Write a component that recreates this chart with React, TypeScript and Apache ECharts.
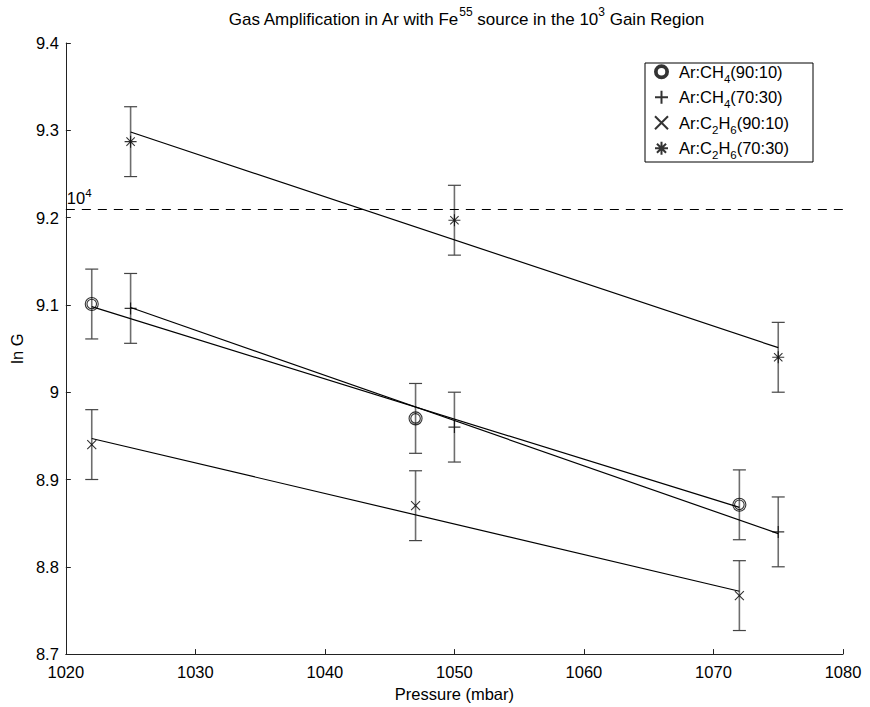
import React, { useEffect, useRef } from "react";
import * as echarts from "echarts";

// ---- data ----
const pressure9010 = [1022, 1047, 1072];
const pressure7030 = [1025, 1050, 1075];
const lnG_CH4_9010 = [9.101, 8.970, 8.871];
const lnG_CH4_7030 = [9.096, 8.960, 8.840];
const lnG_C2H6_9010 = [8.940, 8.870, 8.767];
const lnG_C2H6_7030 = [9.287, 9.197, 9.040];
const errCH4_9010 = [0.04, 0.04, 0.04];
const errCH4_7030 = [0.04, 0.04, 0.04];
const errC2H6_9010 = [0.04, 0.04, 0.04];
const errC2H6_7030 = [0.04, 0.04, 0.04];
// linear fit end points
const fitX9010 = [1022, 1072];
const fitX7030 = [1025, 1075];
const fitCH4_9010 = [9.098, 8.868];
const fitCH4_7030 = [9.097, 8.838];
const fitC2H6_9010 = [8.947, 8.772];
const fitC2H6_7030 = [9.298, 9.051];
const refLevel = 9.21; // ln(10^4)
const xTicks = [1020, 1030, 1040, 1050, 1060, 1070, 1080];
const yTicks = [8.7, 8.8, 8.9, 9.0, 9.1, 9.2, 9.3, 9.4];

const seriesNames = ["Ar:CH4(90:10)", "Ar:CH4(70:30)", "Ar:C2H6(90:10)", "Ar:C2H6(70:30)"];
const legendRich: Record<string, string> = {
  "Ar:CH4(90:10)": "Ar:CH{sub|4}(90:10)",
  "Ar:CH4(70:30)": "Ar:CH{sub|4}(70:30)",
  "Ar:C2H6(90:10)": "Ar:C{sub|2}H{sub|6}(90:10)",
  "Ar:C2H6(70:30)": "Ar:C{sub|2}H{sub|6}(70:30)",
};

const FONT = "'Liberation Sans', Arial, sans-serif";
const FS = 16.5;
const FS_SMALL = 11.5;

const symCircle =
  "path://M0,6A6,6 0 1,0 12,6A6,6 0 1,0 0,6ZM1.6,6A4.4,4.4 0 1,0 10.4,6A4.4,4.4 0 1,0 1.6,6Z";
const symPlus = "path://M5,0L5,10M0,5L10,5";
const symX = "path://M0,0L10,10M10,0L0,10";
const symStar = "path://M5,0L5,10M0,5L10,5M1.5,1.5L8.5,8.5M8.5,1.5L1.5,8.5";

function zip(xs: number[], ys: number[]) {
  return xs.map((x, i) => [x, ys[i]]);
}

function errData(xs: number[], ys: number[], es: number[]) {
  return xs.map((x, i) => [x, ys[i] - es[i], ys[i] + es[i]]);
}

function errorSeries(data: number[][]) {
  return {
    type: "custom",
    silent: true,
    z: 1,
    renderItem: (_params: any, api: any) => {
      const x = api.value(0);
      const lo = api.coord([x, api.value(1)]);
      const hi = api.coord([x, api.value(2)]);
      const hw = 6.5;
      return {
        type: "group",
        children: [
          { type: "line", shape: { x1: lo[0], y1: lo[1], x2: hi[0], y2: hi[1] }, style: { stroke: "#6e6e6e", lineWidth: 1.6 } },
          { type: "line", shape: { x1: lo[0] - hw, y1: lo[1], x2: lo[0] + hw, y2: lo[1] }, style: { stroke: "#444", lineWidth: 1.2 } },
          { type: "line", shape: { x1: hi[0] - hw, y1: hi[1], x2: hi[0] + hw, y2: hi[1] }, style: { stroke: "#444", lineWidth: 1.2 } },
        ],
      };
    },
    data,
  };
}

function markerSeries(name: string, data: number[][], symbol: string, size: number) {
  return {
    name,
    type: "scatter",
    symbol,
    symbolSize: size,
    z: 5,
    itemStyle: { color: "rgba(0,0,0,0)", borderColor: "#000", borderWidth: 1.1 },
    data,
  };
}

function fitSeries(data: number[][]) {
  return {
    type: "line",
    symbol: "none",
    z: 3,
    lineStyle: { color: "#000", width: 1.2 },
    data,
  };
}

export default function App() {
  const ref = useRef<HTMLDivElement>(null);
  useEffect(() => {
    if (!ref.current) return;
    const chart = echarts.init(ref.current, undefined, { renderer: "svg" });
    const option: any = {
      animation: false,
      backgroundColor: "#fff",
      textStyle: { fontFamily: FONT },
      title: {
        text: "Gas Amplification in Ar with Fe{sup|55} source in the 10{sup|3} Gain Region",
        left: 461,
        top: 1,
        textAlign: "center",
        textStyle: {
          fontFamily: FONT,
          fontSize: 17,
          fontWeight: "normal",
          color: "#000",
          lineHeight: 26,
          rich: {
            sup: { fontSize: 12, verticalAlign: "top", lineHeight: 26, fontFamily: FONT, color: "#000" },
          },
        },
      },
      graphic: [
        {
          type: "rect",
          z: 50,
          shape: { x: 645, y: 63, width: 168, height: 99 },
          style: { fill: "#fff", stroke: "#000", lineWidth: 1 },
        },
      ],
      grid: { left: 63, right: 27, top: 43, bottom: 48, containLabel: false },
      legend: {
        data: seriesNames,
        orient: "vertical",
        left: 654,
        top: 59,
        z: 60,
        padding: 0,
        itemGap: 0,
        itemWidth: 13,
        itemHeight: 13,
        formatter: (n: string) => legendRich[n],
        textStyle: {
          fontFamily: FONT,
          fontSize: FS,
          color: "#000",
          lineHeight: 25.5,
          padding: [0, 0, 0, 6],
          rich: {
            sub: { fontSize: FS_SMALL, verticalAlign: "bottom", lineHeight: 15, fontFamily: FONT, color: "#000" },
          },
        },
      },
      xAxis: {
        type: "value",
        min: 1020,
        max: 1080,
        interval: 10,
        name: "Pressure (mbar)",
        nameLocation: "middle",
        nameGap: 29,
        nameTextStyle: { fontFamily: FONT, fontSize: FS, color: "#000", verticalAlign: "top" },
        axisLine: { lineStyle: { color: "#222", width: 1 } },
        axisTick: { inside: true, length: 5, lineStyle: { color: "#222" } },
        axisLabel: {
          fontFamily: FONT,
          fontSize: FS,
          color: "#000",
          margin: 9,
          formatter: (v: number) => (xTicks.includes(v) ? String(v) : ""),
        },
        splitLine: { show: false },
      },
      yAxis: {
        type: "value",
        min: 8.7,
        max: 9.4,
        interval: 0.1,
        name: "ln G",
        nameLocation: "middle",
        nameRotate: 90,
        nameGap: 34,
        nameTextStyle: { fontFamily: FONT, fontSize: FS, color: "#000" },
        axisLine: { show: true, lineStyle: { color: "#222", width: 1 } },
        axisTick: { show: true, inside: true, length: 5, lineStyle: { color: "#222" } },
        axisLabel: {
          fontFamily: FONT,
          fontSize: FS,
          color: "#000",
          margin: 7,
          formatter: (v: number) => {
            const t = yTicks.find((y) => Math.abs(y - v) < 1e-6);
            return t === undefined ? "" : t === 9.0 ? "9" : t.toFixed(1);
          },
        },
        splitLine: { show: false },
      },
      series: [
        {
          type: "line",
          symbol: "none",
          silent: true,
          z: 2,
          data: [],
          markLine: {
            silent: true,
            symbol: "none",
            lineStyle: { color: "#000", type: [9, 7], width: 1 },
            label: {
              position: "insideStartTop",
              distance: [1, 0],
              formatter: "10{sup|4}",
              fontFamily: FONT,
              fontSize: FS,
              color: "#000",
              lineHeight: 22,
              rich: { sup: { fontSize: FS_SMALL, verticalAlign: "top", lineHeight: 22, color: "#000", fontFamily: FONT } },
            },
            data: [{ yAxis: refLevel }],
          },
        },
        errorSeries(errData(pressure9010, lnG_CH4_9010, errCH4_9010)),
        errorSeries(errData(pressure7030, lnG_CH4_7030, errCH4_7030)),
        errorSeries(errData(pressure9010, lnG_C2H6_9010, errC2H6_9010)),
        errorSeries(errData(pressure7030, lnG_C2H6_7030, errC2H6_7030)),
        fitSeries(zip(fitX9010, fitCH4_9010)),
        fitSeries(zip(fitX7030, fitCH4_7030)),
        fitSeries(zip(fitX9010, fitC2H6_9010)),
        fitSeries(zip(fitX7030, fitC2H6_7030)),
        markerSeries(seriesNames[0], zip(pressure9010, lnG_CH4_9010), symCircle, 13),
        markerSeries(seriesNames[1], zip(pressure7030, lnG_CH4_7030), symPlus, 12),
        markerSeries(seriesNames[2], zip(pressure9010, lnG_C2H6_9010), symX, 9),
        markerSeries(seriesNames[3], zip(pressure7030, lnG_C2H6_7030), symStar, 12),
      ],
    };
    chart.setOption(option);
    return () => chart.dispose();
  }, []);
  return <div ref={ref} style={{ width: 870, height: 707, position: "absolute", left: 0, top: 0 }} />;
}
